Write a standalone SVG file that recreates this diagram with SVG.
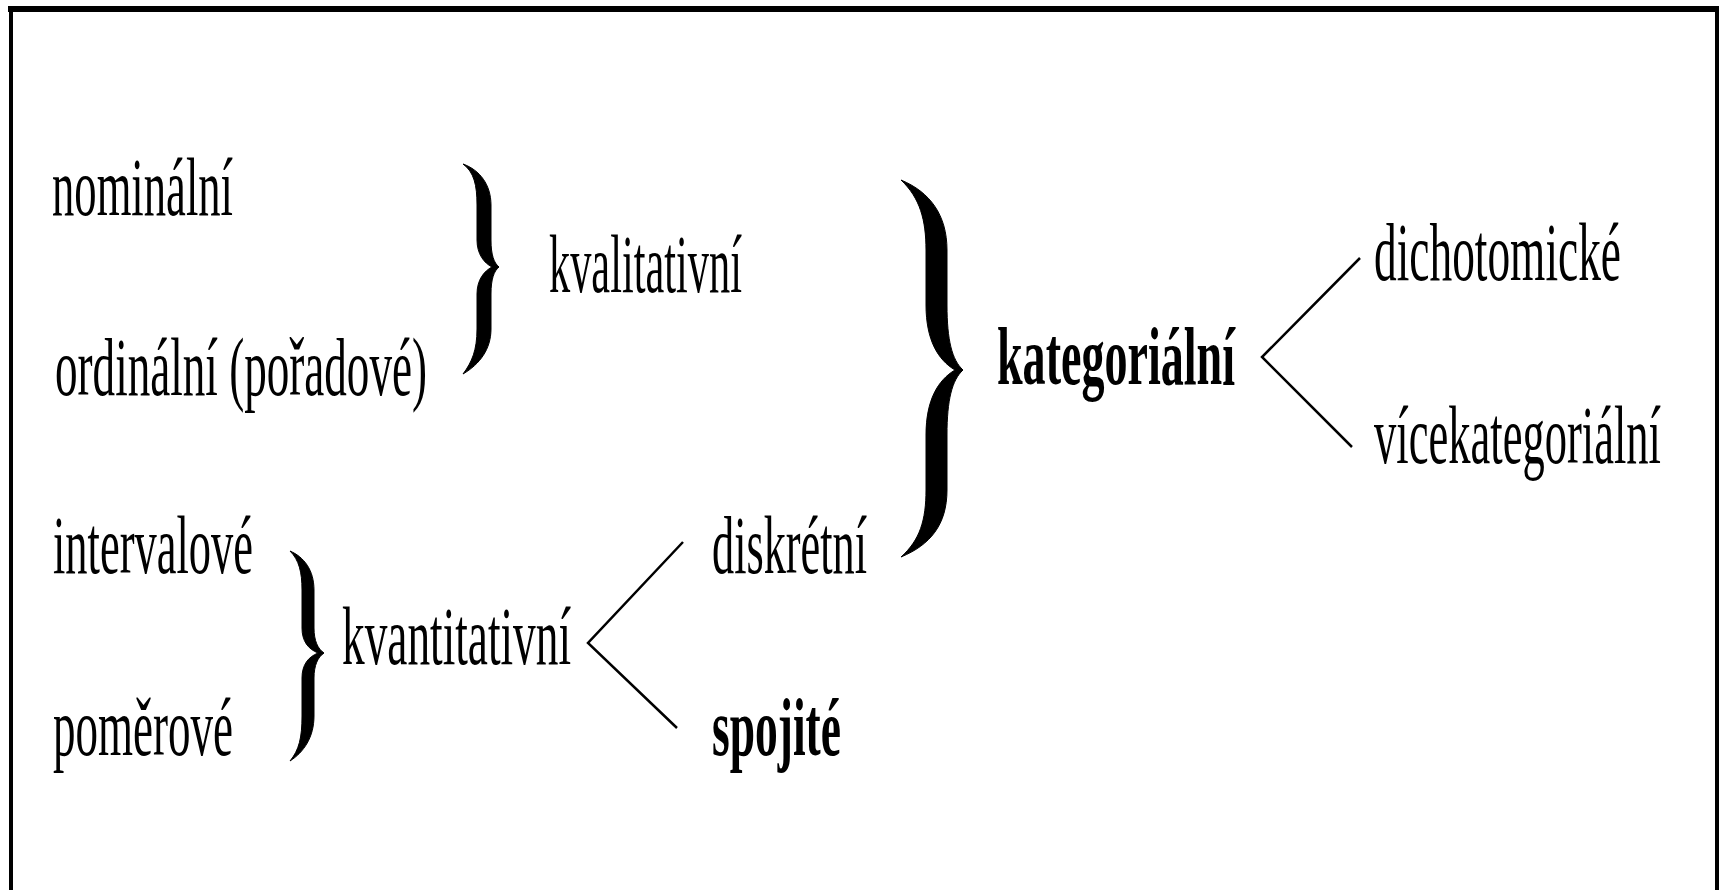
<svg xmlns="http://www.w3.org/2000/svg" width="1719" height="890" viewBox="0 0 1719 890">
<style>
text{font-family:"Liberation Serif","Times New Roman",serif;font-size:82px;fill:#000}
.b{font-weight:bold}
.brace{fill:#000;stroke:#000;stroke-width:1}
.conn{fill:none;stroke:#000;stroke-width:2.5}
</style>
<rect x="0" y="0" width="1719" height="890" fill="#fff"/>
<g id="frame" fill="#000">
<rect x="8" y="6" width="1711" height="6"/>
<rect x="9" y="6" width="4" height="884"/>
<rect x="1715" y="6" width="4" height="884"/>
</g>
<g id="n-nominalni"><text transform="translate(52,215) scale(0.5,1)" x="0" y="0" textLength="362" lengthAdjust="spacingAndGlyphs">nominální</text></g>
<g id="n-ordinalni"><text transform="translate(55,395) scale(0.5,1)" x="0" y="0" textLength="744" lengthAdjust="spacingAndGlyphs">ordinální (pořadové)</text></g>
<g id="n-kvalitativni"><text transform="translate(549,292) scale(0.5,1)" x="0" y="0" textLength="386" lengthAdjust="spacingAndGlyphs">kvalitativní</text></g>
<g id="n-kategorialni"><text class="b" transform="translate(997,384) scale(0.5,1)" x="0" y="0" textLength="476" lengthAdjust="spacingAndGlyphs">kategoriální</text></g>
<g id="n-dichotomicke"><text transform="translate(1374,280) scale(0.5,1)" x="0" y="0" textLength="494" lengthAdjust="spacingAndGlyphs">dichotomické</text></g>
<g id="n-vicekategorialni"><text transform="translate(1374,463) scale(0.5,1)" x="0" y="0" textLength="574" lengthAdjust="spacingAndGlyphs">vícekategoriální</text></g>
<g id="n-intervalove"><text transform="translate(53,573) scale(0.5,1)" x="0" y="0" textLength="400" lengthAdjust="spacingAndGlyphs">intervalové</text></g>
<g id="n-pomerove"><text transform="translate(53,755) scale(0.5,1)" x="0" y="0" textLength="360" lengthAdjust="spacingAndGlyphs">poměrové</text></g>
<g id="n-kvantitativni"><text transform="translate(342,664) scale(0.5,1)" x="0" y="0" textLength="458" lengthAdjust="spacingAndGlyphs">kvantitativní</text></g>
<g id="n-diskretni"><text transform="translate(712,573) scale(0.5,1)" x="0" y="0" textLength="310" lengthAdjust="spacingAndGlyphs">diskrétní</text></g>
<g id="n-spojite"><text class="b" transform="translate(712,755) scale(0.5,1)" x="0" y="0" textLength="258" lengthAdjust="spacingAndGlyphs">spojité</text></g>
<g id="connectors">
<path class="brace" d="M463,164 C480,170 491,185 491,205 L491,240 C491,255 494,263 499,267 C494,271 491,279 491,294 L491,329 C491,349 480,364 463,374 C472,362 477,350 477,329 L477,294 C477,280 484,271 492,267 C484,263 477,254 477,240 L477,205 C477,185 474,172 463,164 Z"/>
<path class="brace" d="M901,180 C930,192 947,215 947,250 L947,305 C947,340 952,360 963,370 C952,380 947,400 947,435 L947,490 C947,525 930,545 901,557 C920,540 926,520 926,490 L926,435 C926,400 938,380 955,370 C938,360 926,340 926,305 L926,250 C926,220 920,198 901,180 Z"/>
<path class="brace" d="M290,551 C304,557 314,570 314,590 L314,628 C314,641 318,649 324,653 C318,657 314,665 314,678 L314,716 C314,737 304,752 290,761 C299,750 302,738 302,716 L302,678 C302,665 308,657 318,653 C308,649 302,641 302,628 L302,590 C302,572 299,560 290,551 Z"/>
<polyline class="conn" points="1360,258 1262,357 1352,447"/>
<polyline class="conn" points="683,542 588,643 677,728"/>
</g>
</svg>
